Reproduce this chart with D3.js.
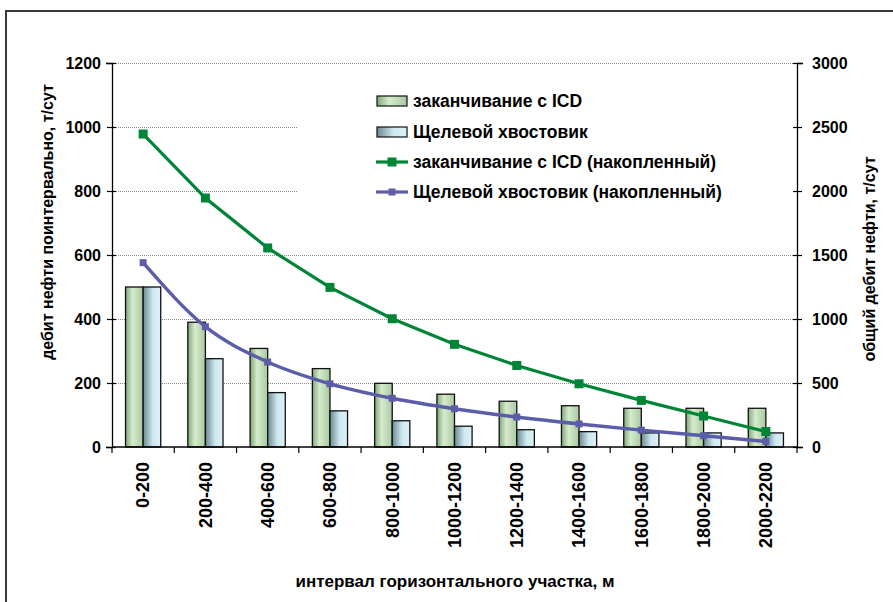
<!DOCTYPE html>
<html>
<head>
<meta charset="utf-8">
<script src="https://cdn.jsdelivr.net/npm/d3@7"></script>
<style>
  html, body { margin: 0; padding: 0; background: #fff; }
  svg { display: block; }
  text { font-family: "Liberation Sans", Arial, sans-serif; font-weight: bold; fill: #000; }
</style>
</head>
<body>
<svg id="chart" width="893" height="602"></svg>
<script>
// Interval categories along the horizontal section, m
const categories = ["0-200", "200-400", "400-600", "600-800", "800-1000", "1000-1200",
  "1200-1400", "1400-1600", "1600-1800", "1800-2000", "2000-2200"];

// Oil rate per interval, t/day (left axis)
const icdRate = [500, 390, 308, 245, 199, 165, 143, 129, 121, 121, 121];
const slotRate = [500, 276, 170, 113, 82, 65, 54, 48, 44, 44, 44];

// Total oil rate, t/day (right axis)
const icdTotal = [2445, 1945, 1555, 1247, 1002, 802, 637, 494, 364, 242, 121];
const slotTotal = [1440, 940, 664, 494, 381, 299, 234, 180, 132, 88, 44];

const leftTicks = [0, 200, 400, 600, 800, 1000, 1200];
const rightTicks = [0, 500, 1000, 1500, 2000, 2500, 3000];

const seriesNames = ["заканчивание с ICD", "Щелевой хвостовик",
  "заканчивание с ICD (накопленный)", "Щелевой хвостовик (накопленный)"];

const svg = d3.select("#chart");
const W = 893, H = 602;
const m = { left: 112, right: 797, top: 63, bottom: 447 };

svg.append("rect").attr("width", W).attr("height", H).attr("fill", "#fff");

// Outer chart frame
svg.append("rect")
  .attr("x", 6).attr("y", 11).attr("width", 920).attr("height", 620)
  .attr("fill", "none").attr("stroke", "#3a3a3a").attr("stroke-width", 2);

const defs = svg.append("defs");
const gGreen = defs.append("linearGradient").attr("id", "gradGreen")
  .attr("x1", "0%").attr("x2", "100%").attr("y1", "0%").attr("y2", "0%");
gGreen.append("stop").attr("offset", "0%").attr("stop-color", "#7fa879");
gGreen.append("stop").attr("offset", "40%").attr("stop-color", "#d6ebcd");
gGreen.append("stop").attr("offset", "100%").attr("stop-color", "#a8c99f");
const gBlue = defs.append("linearGradient").attr("id", "gradBlue")
  .attr("x1", "0%").attr("x2", "100%").attr("y1", "0%").attr("y2", "0%");
gBlue.append("stop").attr("offset", "0%").attr("stop-color", "#6b8a90");
gBlue.append("stop").attr("offset", "55%").attr("stop-color", "#cfe8ef");
gBlue.append("stop").attr("offset", "100%").attr("stop-color", "#dcf0f6");

const x = d3.scaleBand().domain(categories).range([m.left, m.right]).padding(0);
const groupW = x.bandwidth() * 0.565;
const x1 = d3.scaleBand().domain([0, 1]).range([0, groupW]).padding(0);
const yL = d3.scaleLinear().domain([0, 1200]).range([m.bottom, m.top]);
const yR = d3.scaleLinear().domain([0, 3000]).range([m.bottom, m.top]);

// Horizontal gridlines
svg.append("g").selectAll("line").data(leftTicks.filter(d => d > 0)).join("line")
  .attr("x1", m.left).attr("x2", m.right)
  .attr("y1", d => yL(d) + 0.5).attr("y2", d => yL(d) + 0.5)
  .attr("stroke", "#8a8a8a").attr("stroke-width", 1).attr("stroke-dasharray", "1,1");

// Legend background (covers gridlines)
const leg = { x: 298, y: 78 };
svg.append("rect").attr("x", leg.x).attr("y", leg.y).attr("width", m.right - leg.x - 1).attr("height", 138)
  .attr("fill", "#fff");

// Bars
const groups = svg.append("g").selectAll("g").data(categories).join("g")
  .attr("transform", d => `translate(${x(d) + (x.bandwidth() - groupW) / 2},0)`);
groups.append("rect")
  .attr("x", x1(0)).attr("width", x1.bandwidth())
  .attr("y", (d, i) => yL(icdRate[i])).attr("height", (d, i) => yL(0) - yL(icdRate[i]))
  .attr("fill", "url(#gradGreen)").attr("stroke", "#111").attr("stroke-width", 1.3);
groups.append("rect")
  .attr("x", x1(1)).attr("width", x1.bandwidth())
  .attr("y", (d, i) => yL(slotRate[i])).attr("height", (d, i) => yL(0) - yL(slotRate[i]))
  .attr("fill", "url(#gradBlue)").attr("stroke", "#111").attr("stroke-width", 1.3);

// Axes
const axL = svg.append("g").attr("transform", `translate(${m.left},0)`)
  .call(d3.axisLeft(yL).tickValues(leftTicks).tickSize(6).tickFormat(d3.format("d")));
const axR = svg.append("g").attr("transform", `translate(${m.right},0)`)
  .call(d3.axisRight(yR).tickValues(rightTicks).tickSize(6).tickFormat(d3.format("d")));
const axB = svg.append("g").attr("transform", `translate(0,${m.bottom})`)
  .call(d3.axisBottom(x).tickSize(0).tickFormat(d => d));
[axL, axR, axB].forEach(a => {
  a.select(".domain").attr("stroke", "#000").attr("stroke-width", 1.3);
  a.selectAll(".tick line").attr("stroke", "#000").attr("stroke-width", 1.2);
  a.selectAll("text").attr("font-size", 16).attr("font-weight", "bold")
    .attr("font-family", "'Liberation Sans', Arial, sans-serif").attr("fill", "#000");
});
axL.selectAll(".tick line").attr("x2", -5).attr("x1", 4);
axL.selectAll(".tick text").attr("x", -11);
axR.selectAll(".tick line").attr("x1", -4).attr("x2", 5);
axR.selectAll(".tick text").attr("x", 15);
axB.select(".domain").attr("d", `M${m.left},0H${m.right}`);
axB.selectAll(".tick text")
  .attr("transform", "rotate(-90)")
  .attr("x", -15).attr("y", 0).attr("dy", "0.35em")
  .attr("text-anchor", "end").attr("font-size", 18);

// Category boundary ticks
svg.append("g").selectAll("line").data(d3.range(categories.length + 1)).join("line")
  .attr("x1", i => m.left + i * x.step()).attr("x2", i => m.left + i * x.step())
  .attr("y1", m.bottom).attr("y2", m.bottom + 6)
  .attr("stroke", "#000").attr("stroke-width", 1.2);

// Cumulative lines
const cx = d => x(d) + x.bandwidth() / 2;
const icdLine = d3.line().x((d, i) => cx(categories[i])).y(d => yR(d));
const slotLine = d3.line().x((d, i) => cx(categories[i])).y(d => yR(d)).curve(d3.curveMonotoneX);

const green = "#008536", blue = "#5b5da8";
svg.append("path").datum(icdTotal).attr("d", icdLine)
  .attr("fill", "none").attr("stroke", green).attr("stroke-width", 3.2);
svg.append("g").selectAll("rect").data(icdTotal).join("rect")
  .attr("x", (d, i) => cx(categories[i]) - 4.5).attr("y", d => yR(d) - 4.5)
  .attr("width", 9).attr("height", 9).attr("fill", green);

svg.append("path").datum(slotTotal).attr("d", slotLine)
  .attr("fill", "none").attr("stroke", blue).attr("stroke-width", 3.4);
svg.append("g").selectAll("rect").data(slotTotal).join("rect")
  .attr("x", (d, i) => cx(categories[i]) - 3.5).attr("y", d => yR(d) - 3.5)
  .attr("width", 7).attr("height", 7).attr("fill", blue);

// Legend
const rowsY = [101, 132, 162, 192];
const lg = svg.append("g");
lg.append("rect").attr("x", 377).attr("y", rowsY[0] - 5).attr("width", 30).attr("height", 10)
  .attr("fill", "url(#gradGreen)").attr("stroke", "#111").attr("stroke-width", 1.2);
lg.append("rect").attr("x", 377).attr("y", rowsY[1] - 5).attr("width", 30).attr("height", 10)
  .attr("fill", "url(#gradBlue)").attr("stroke", "#111").attr("stroke-width", 1.2);
lg.append("line").attr("x1", 376).attr("x2", 408).attr("y1", rowsY[2]).attr("y2", rowsY[2])
  .attr("stroke", green).attr("stroke-width", 3.2);
lg.append("rect").attr("x", 392 - 4.5).attr("y", rowsY[2] - 4.5).attr("width", 9).attr("height", 9).attr("fill", green);
lg.append("line").attr("x1", 376).attr("x2", 408).attr("y1", rowsY[3]).attr("y2", rowsY[3])
  .attr("stroke", blue).attr("stroke-width", 3.2);
lg.append("rect").attr("x", 392 - 3.5).attr("y", rowsY[3] - 3.5).attr("width", 7).attr("height", 7).attr("fill", blue);
lg.selectAll("text").data(seriesNames).join("text")
  .attr("x", 413).attr("y", (d, i) => rowsY[i]).attr("dy", "0.36em")
  .attr("font-size", 17.5).text(d => d);

// Axis titles
svg.append("text").attr("transform", "translate(53,222) rotate(-90)")
  .attr("text-anchor", "middle").attr("font-size", 16)
  .text("дебит нефти поинтервально, т/сут");
svg.append("text").attr("transform", "translate(875,259) rotate(-90)")
  .attr("text-anchor", "middle").attr("font-size", 16)
  .text("общий дебит нефти, т/сут");
svg.append("text").attr("x", 455).attr("y", 587)
  .attr("text-anchor", "middle").attr("font-size", 17)
  .text("интервал горизонтального участка, м");
</script>
</body>
</html>
